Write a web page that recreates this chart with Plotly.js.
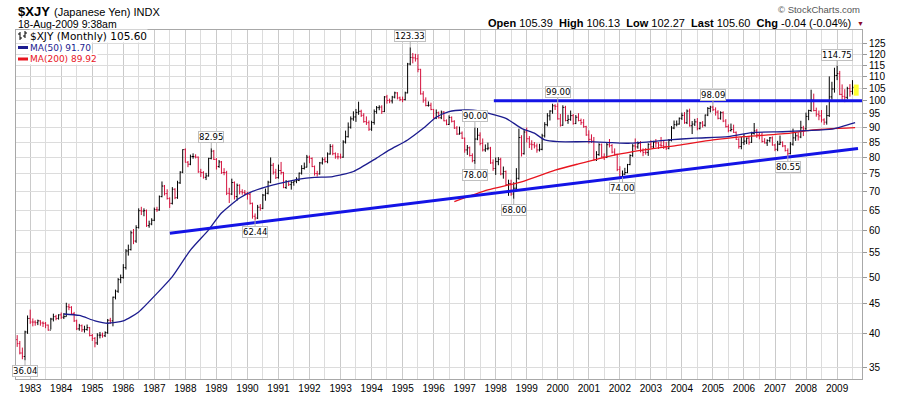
<!DOCTYPE html>
<html><head><meta charset="utf-8">
<script src="https://cdn.plot.ly/plotly-3.0.1.min.js"></script>
<style>html,body{margin:0;padding:0;background:#fff;} #chart{width:900px;height:396px;}</style>
</head><body><div id="chart"></div>
<script>
// ---------------- DATA (monthly $XJY bars, Aug 1982 .. Aug 2009) ----------------
const firstYear = 1982, firstMonth = 8;

const open = [
  39.1, 38.5, 37.1, 36.6, 40.3,
  42.5, 41.9, 41.9, 41.8, 42.1, 41.75, 41.7, 41.4, 40.6, 42.4, 42.8, 42.5,
  43.1, 42.7, 42.8, 44.5, 44.4, 43.3, 42.1, 40.8, 41.3, 40.65, 40.7, 41.0,
  39.75, 39.3, 38.6, 39.8, 39.8, 39.7, 40.2, 42.2, 42.1, 46.2, 47.3, 49.5,
  49.9, 51.9, 55.4, 55.7, 59.5, 57.6, 60.75, 64.9, 64.8, 64.9, 61.2, 61.6,
  62.5, 65.2, 65.1, 68.6, 71.5, 69.4, 68.1, 66.8, 70.6, 68.3, 72.4, 75.5,
  82.5, 78.5, 77.9, 80.3, 80.3, 80.1, 75.6, 75.4, 74.0, 74.4, 79.7, 82.0,
  79.4, 77.2, 78.6, 75.4, 75.4, 69.5, 69.3, 72.5, 68.6, 71.7, 69.9, 69.7,
  69.5, 69.2, 66.8, 63.5, 63.05, 65.8, 65.5, 69.0, 69.5, 72.6, 77.6, 75.5,
  73.9, 76.0, 75.4, 71.1, 72.8, 71.9, 72.5, 72.9, 73.1, 75.2, 76.6, 77.0,
  80.1, 79.7, 77.2, 75.1, 75.0, 78.3, 79.3, 78.7, 81.1, 83.5, 81.2, 80.2,
  80.2, 80.1, 85.0, 86.8, 90.1, 93.1, 93.8, 95.5, 95.9, 94.4, 92.1, 91.7,
  89.4, 91.8, 95.8, 97.3, 97.5, 95.8, 101.5, 100.1, 99.9, 101.4, 103.1, 101.1,
  100.4, 100.4, 103.1, 115.5, 118.5, 118.3, 117.9, 113.1, 102.7, 100.2, 98.1, 98.2,
  96.6, 93.4, 95.4, 93.5, 95.6, 92.4, 91.1, 93.6, 92.2, 89.8, 87.7, 88.0,
  86.3, 82.4, 83.1, 80.6, 79.0, 86.0, 87.3, 84.5, 82.4, 82.8, 83.0, 78.3,
  76.6, 78.7, 79.4, 75.0, 75.7, 71.9, 72.2, 69.3, 70.9, 73.7, 86.5, 81.2,
  88.4, 86.1, 84.3, 84.1, 83.7, 82.4, 82.6, 87.1, 91.0, 94.2, 96.0, 98.0,
  97.8, 93.1, 90.8, 97.4, 92.5, 92.9, 94.3, 91.4, 93.7, 92.5, 91.7, 90.3,
  87.4, 85.9, 85.3, 79.3, 80.9, 84.1, 80.2, 80.0, 84.1, 83.8, 81.7, 81.0,
  76.3, 74.2, 74.9, 75.4, 77.8, 80.6, 83.7, 83.4, 84.5, 82.1, 81.6, 81.6,
  84.2, 83.4, 84.9, 84.7, 84.0, 83.8, 83.4, 82.9, 85.5, 89.8, 91.0, 91.2,
  93.3, 94.4, 91.7, 96.0, 90.6, 91.2, 92.0, 89.6, 91.6, 90.8, 94.5, 97.0,
  97.5, 96.5, 95.6, 93.3, 95.4, 92.3, 90.3, 88.9, 89.3, 88.3, 85.9, 83.5,
  84.8, 85.3, 86.3, 84.9, 87.9, 88.8, 87.4, 87.3, 85.2, 84.7, 85.5, 86.4,
  84.0, 82.6, 84.3, 84.9, 83.7, 82.2, 81.2, 84.3, 86.4, 87.1, 86.7, 89.9,
  89.5, 94.0, 96.2, 100.3, 96.2, 94.8, 94.2, 92.7, 91.9, 94.3, 101.5, 104.7,
  110.4, 111.2, 102.5, 101.7, 101.3, 104.9, 103.7, 105.39
];
const high = [
  39.8, 38.9, 37.9, 40.5, 43.0,
  44.0, 42.5, 42.2, 42.3, 42.2, 42.0, 41.9, 41.5, 42.6, 43.3, 43.1, 43.2,
  43.5, 43.4, 45.2, 45.0, 44.6, 43.6, 42.3, 41.6, 41.5, 41.3, 41.5, 41.1,
  40.0, 39.5, 40.1, 40.3, 40.2, 40.4, 42.4, 42.6, 46.3, 47.6, 49.8, 50.5,
  52.6, 55.8, 56.8, 60.0, 60.4, 61.3, 65.5, 65.9, 65.5, 65.2, 62.4, 63.0,
  65.7, 65.9, 68.9, 72.8, 71.8, 70.6, 68.4, 71.2, 70.9, 73.0, 75.8, 82.6,
  82.9, 78.9, 80.9, 81.3, 81.0, 80.3, 76.5, 75.8, 75.3, 79.9, 82.95, 82.4,
  79.8, 79.2, 78.9, 76.7, 75.9, 71.0, 73.6, 72.8, 72.2, 72.0, 70.6, 70.4,
  69.9, 69.6, 67.0, 64.2, 66.4, 66.6, 69.3, 70.8, 73.0, 80.0, 78.3, 76.5,
  77.8, 78.6, 75.6, 73.2, 73.0, 72.9, 73.2, 74.0, 75.4, 77.6, 78.4, 80.8,
  80.6, 80.0, 77.5, 75.9, 78.6, 80.0, 80.1, 81.6, 84.3, 84.2, 81.6, 81.4,
  81.2, 85.6, 88.9, 91.8, 94.0, 95.9, 96.8, 99.6, 96.5, 95.2, 94.0, 92.5,
  92.4, 96.6, 97.9, 98.2, 98.2, 101.8, 102.3, 100.8, 101.9, 103.6, 103.4, 101.6,
  101.6, 103.6, 116.0, 123.33, 120.6, 120.2, 120.0, 113.3, 103.8, 101.3, 99.7, 99.2,
  96.8, 96.6, 95.8, 96.2, 96.0, 92.9, 94.4, 94.0, 92.6, 90.5, 90.3, 88.6,
  86.5, 84.0, 83.5, 81.3, 90.0, 89.8, 88.3, 86.2, 84.2, 84.8, 83.4, 79.4,
  80.0, 80.1, 79.9, 77.2, 76.0, 73.3, 73.3, 72.6, 76.7, 89.6, 87.3, 89.3,
  90.0, 87.0, 85.6, 85.0, 84.5, 84.4, 87.8, 91.9, 95.2, 96.3, 98.8, 98.6,
  99.0, 94.9, 98.2, 98.0, 94.6, 96.2, 94.9, 94.5, 95.2, 93.2, 93.0, 90.6,
  89.0, 87.6, 86.7, 82.0, 84.6, 84.5, 81.3, 84.7, 86.0, 84.3, 82.9, 81.2,
  77.3, 76.0, 76.8, 78.0, 81.0, 84.3, 86.2, 85.2, 85.3, 82.9, 83.0, 84.6,
  85.6, 85.4, 86.0, 85.0, 86.7, 85.4, 85.0, 86.0, 90.5, 92.5, 92.5, 93.6,
  95.4, 95.6, 96.6, 96.9, 92.3, 93.1, 93.4, 92.0, 92.3, 94.7, 97.5, 98.0,
  98.09, 97.4, 96.3, 95.9, 95.9, 93.0, 91.1, 91.4, 91.0, 88.6, 86.3, 86.7,
  87.7, 86.5, 87.0, 88.5, 91.6, 89.5, 88.3, 88.2, 86.3, 85.9, 86.7, 86.9,
  84.4, 85.4, 87.2, 85.2, 84.0, 82.9, 85.0, 89.6, 88.3, 88.3, 92.4, 90.6,
  95.4, 96.5, 104.4, 102.8, 97.3, 96.2, 96.4, 93.3, 98.2, 110.0, 107.7, 113.8,
  114.75, 112.4, 106.6, 104.6, 105.6, 106.7, 108.4, 106.13
];
const low = [
  38.0, 36.9, 36.2, 36.04, 40.0,
  41.6, 41.2, 41.3, 41.4, 41.3, 41.1, 40.9, 40.5, 40.7, 42.0, 42.2, 42.3,
  42.4, 42.4, 42.8, 43.9, 43.1, 41.9, 40.6, 40.5, 40.3, 40.2, 40.5, 39.6,
  38.9, 37.94, 38.3, 39.3, 39.4, 39.5, 40.0, 41.6, 41.2, 45.8, 47.0, 48.8,
  49.7, 51.5, 54.4, 55.5, 56.9, 57.2, 60.5, 63.8, 63.5, 60.9, 60.7, 61.3,
  62.3, 64.6, 64.9, 68.4, 68.9, 67.8, 65.6, 66.5, 67.9, 68.0, 72.1, 75.2,
  78.4, 77.0, 77.6, 79.6, 79.7, 75.3, 74.1, 73.6, 73.2, 74.2, 79.4, 79.2,
  76.3, 76.8, 75.0, 74.6, 69.0, 66.9, 69.0, 67.8, 67.5, 69.2, 69.1, 69.0,
  67.8, 66.5, 62.9, 62.44, 62.8, 64.9, 65.3, 67.5, 69.2, 72.3, 74.8, 73.5,
  73.6, 74.8, 70.9, 70.7, 71.5, 70.5, 71.6, 72.3, 72.9, 74.8, 76.3, 76.9,
  78.2, 77.0, 74.5, 74.2, 74.8, 77.8, 78.4, 78.2, 80.9, 80.7, 79.6, 79.4,
  79.6, 79.9, 84.5, 86.5, 89.6, 92.4, 92.0, 94.6, 93.8, 91.7, 90.9, 88.8,
  88.8, 91.0, 95.0, 96.3, 94.9, 95.6, 98.8, 99.0, 98.9, 100.9, 100.5, 99.8,
  99.4, 100.1, 102.9, 114.9, 115.8, 116.6, 111.8, 102.4, 99.2, 97.8, 97.7, 96.3,
  93.2, 93.0, 93.2, 93.0, 92.2, 90.8, 90.9, 91.8, 89.5, 87.4, 87.5, 86.0,
  81.5, 80.8, 80.3, 78.5, 78.0, 85.6, 83.9, 81.9, 81.8, 82.3, 78.0, 75.9,
  74.7, 77.6, 74.6, 73.6, 71.6, 68.8, 68.8, 68.0, 70.0, 73.3, 80.3, 80.9,
  84.8, 83.0, 82.4, 82.9, 81.5, 81.9, 82.3, 86.5, 90.4, 92.5, 95.0, 96.4,
  92.8, 90.3, 90.6, 92.2, 91.3, 92.4, 91.0, 91.2, 92.2, 90.9, 89.9, 87.1,
  84.5, 84.7, 79.0, 78.9, 80.5, 79.9, 79.2, 79.8, 83.2, 81.3, 80.6, 75.8,
  74.1, 74.0, 74.7, 75.2, 77.6, 80.2, 82.4, 82.8, 81.6, 80.4, 80.9, 80.5,
  83.0, 82.9, 83.3, 82.7, 83.4, 82.7, 82.4, 82.6, 85.2, 89.4, 90.4, 91.0,
  92.7, 91.3, 91.2, 90.3, 87.7, 90.5, 89.0, 89.3, 90.0, 90.3, 94.1, 95.5,
  96.0, 94.3, 92.9, 92.8, 91.9, 90.0, 88.3, 88.6, 88.1, 85.7, 82.8, 82.6,
  84.0, 84.3, 84.1, 84.7, 87.5, 86.4, 85.9, 84.8, 84.5, 83.7, 84.9, 83.8,
  82.0, 82.0, 84.0, 83.3, 81.9, 80.55, 81.0, 83.8, 85.4, 85.5, 86.3, 87.0,
  89.2, 92.6, 95.7, 95.9, 93.9, 92.6, 91.8, 90.9, 91.0, 93.8, 100.4, 103.2,
  108.4, 102.2, 100.3, 99.4, 100.5, 101.6, 102.4, 102.27
];
const close = [
  38.5, 37.1, 36.6, 40.3, 42.5,
  41.9, 41.9, 41.8, 42.1, 41.75, 41.7, 41.4, 40.6, 42.4, 42.8, 42.5, 43.1,
  42.7, 42.8, 44.5, 44.4, 43.3, 42.1, 40.8, 41.3, 40.65, 40.7, 41.0, 39.75,
  39.3, 38.6, 39.8, 39.8, 39.7, 40.2, 42.2, 42.1, 46.2, 47.3, 49.5, 49.9,
  51.9, 55.4, 55.7, 59.5, 57.6, 60.75, 64.9, 64.8, 64.9, 61.2, 61.6, 62.5,
  65.2, 65.1, 68.6, 71.5, 69.4, 68.1, 66.8, 70.6, 68.3, 72.4, 75.5, 82.5,
  78.5, 77.9, 80.3, 80.3, 80.1, 75.6, 75.4, 74.0, 74.4, 79.7, 82.0, 79.4,
  77.2, 78.6, 75.4, 75.4, 69.5, 69.3, 72.5, 68.6, 71.7, 69.9, 69.7, 69.5,
  69.2, 66.8, 63.5, 63.05, 65.8, 65.5, 69.0, 69.5, 72.6, 77.6, 75.5, 73.9,
  76.0, 75.4, 71.1, 72.8, 71.9, 72.5, 72.9, 73.1, 75.2, 76.6, 77.0, 80.1,
  79.7, 77.2, 75.1, 75.0, 78.3, 79.3, 78.7, 81.1, 83.5, 81.2, 80.2, 80.2,
  80.1, 85.0, 86.8, 90.1, 93.1, 93.8, 95.5, 95.9, 94.4, 92.1, 91.7, 89.4,
  91.8, 95.8, 97.3, 97.5, 95.8, 101.5, 100.1, 99.9, 101.4, 103.1, 101.1, 100.4,
  100.4, 103.1, 115.5, 118.5, 118.3, 117.9, 113.1, 102.7, 100.2, 98.1, 98.2, 96.6,
  93.4, 95.4, 93.5, 95.6, 92.4, 91.1, 93.6, 92.2, 89.8, 87.7, 88.0, 86.3,
  82.4, 83.1, 80.6, 79.0, 86.0, 87.3, 84.5, 82.4, 82.8, 83.0, 78.3, 76.6,
  78.7, 79.4, 75.0, 75.7, 71.9, 72.2, 69.3, 70.9, 73.7, 86.5, 81.2, 88.4,
  86.1, 84.3, 84.1, 83.7, 82.4, 82.6, 87.1, 91.0, 94.2, 96.0, 98.0, 97.8,
  93.1, 90.8, 97.4, 92.5, 92.9, 94.3, 91.4, 93.7, 92.5, 91.7, 90.3, 87.4,
  85.9, 85.3, 79.3, 80.9, 84.1, 80.2, 80.0, 84.1, 83.8, 81.7, 81.0, 76.3,
  74.2, 74.9, 75.4, 77.8, 80.6, 83.7, 83.4, 84.5, 82.1, 81.6, 81.6, 84.2,
  83.4, 84.9, 84.7, 84.0, 83.8, 83.4, 82.9, 85.5, 89.8, 91.0, 91.2, 93.3,
  94.4, 91.7, 96.0, 90.6, 91.2, 92.0, 89.6, 91.6, 90.8, 94.5, 97.0, 97.5,
  96.5, 95.6, 93.3, 95.4, 92.3, 90.3, 88.9, 89.3, 88.3, 85.9, 83.5, 84.8,
  85.3, 86.3, 84.9, 87.9, 88.8, 87.4, 87.3, 85.2, 84.7, 85.5, 86.4, 84.0,
  82.6, 84.3, 84.9, 83.7, 82.2, 81.2, 84.3, 86.4, 87.1, 86.7, 89.9, 89.5,
  94.0, 96.2, 100.3, 96.2, 94.8, 94.2, 92.7, 91.9, 94.3, 101.5, 104.7, 110.4,
  111.2, 102.5, 101.7, 101.3, 104.9, 103.7, 105.39, 105.60
];

// Moving averages
const ma50Dates = ['1984-02-01','1984-08-01','1985-02-01','1985-07-01','1986-01-01','1986-07-01','1987-02-01','1987-08-01','1988-03-01','1988-10-01','1989-03-01','1989-10-01','1990-03-01','1990-11-01','1991-04-01','1991-09-01','1992-03-01','1992-10-01','1993-06-01','1994-03-01','1994-08-01','1995-03-01','1995-09-01','1996-02-01','1996-07-01','1997-01-01','1997-06-01','1997-10-01','1998-05-01','1998-11-01','1999-04-01','1999-08-01','2000-01-01','2001-01-01','2001-10-01','2002-05-01','2003-08-01','2004-06-01','2005-07-01','2006-04-01','2007-04-01','2008-01-01','2008-11-01','2009-08-01'];
const ma50Vals  = [43.25, 43.0, 42.1, 41.7, 42.1, 43.6, 46.9, 50.1, 55.6, 60.2, 64.3, 68.2, 70.0, 71.8, 72.7, 73.5, 74.0, 74.2, 75.7, 79.8, 82.4, 85.7, 89.7, 93.7, 95.8, 96.4, 96.2, 95.2, 93.3, 89.7, 88.0, 85.7, 85.1, 85.1, 84.8, 84.6, 85.7, 86.3, 86.8, 88.2, 88.5, 88.9, 89.4, 91.7];
const ma200Dates = ['1996-09-01','1997-10-01','1998-11-01','1999-12-01','2000-09-01','2001-10-01','2002-11-01','2003-12-01','2005-01-01','2006-01-01','2007-07-01','2008-03-01','2009-08-01'];
const ma200Vals  = [67.25, 70.4, 72.7, 76.1, 78.0, 80.6, 82.5, 84.0, 85.7, 86.8, 88.0, 89.1, 89.92];

// Hand-drawn trend lines
const supportDates = ['1987-07-03','2009-09-04'];
const supportVals  = [59.4, 82.9];
const resistDates  = ['1997-12-10','2009-10-21'];
const resistVals   = [100.0, 100.0];

// Price labels
const peakText  = ['36.04','82.95','62.44','123.33','90.00','78.00','68.00','99.00','74.00','98.09','80.55','114.75'];
const peakDates = ['1982-11-01','1988-11-01','1990-04-01','1995-04-01','1997-05-01','1997-05-01','1998-08-01','2000-01-01','2002-02-01','2005-01-01','2007-06-01','2009-01-01'];
const peakVals  = [36.04, 82.95, 62.44, 123.33, 90.00, 78.00, 68.00, 99.00, 74.00, 98.09, 80.55, 114.75];
const peakSide  = ['below','above','below','above','above','below','below','above','below','above','below','above'];

const yTicks = [35,40,45,50,55,60,65,70,75,80,85,90,95,100,105,110,115,120,125];

// ---------------- BUILD ----------------
const months = open.map((_, i) => {
  const m = firstMonth - 1 + i;
  const y = firstYear + Math.floor(m / 12);
  return y + '-' + String(m % 12 + 1).padStart(2, '0') + '-01';
});

const L = 16, R = 862, T = 30, B = 379;
const px = x => (x - L) / (R - L);
const py = y => (B - y) / (B - T);

const UP = '#000000', DOWN = '#d4103c';
const NAVY = '#1c1c8f', RED = '#e8141e', BLUE = '#1414e6';

const lastIdx = months.length - 1;
const traces = [
  { type: 'scatter', mode: 'lines', x: ['2009-07-16','2009-09-12','2009-09-12','2009-07-16','2009-07-16'],
    y: [low[lastIdx] - 0.3, low[lastIdx] - 0.3, high[lastIdx] + 0.4, high[lastIdx] + 0.4, low[lastIdx] - 0.3],
    fill: 'toself', fillcolor: '#ffff33', line: { width: 0 }, hoverinfo: 'skip' },
  { type: 'ohlc', x: months, open: open, high: high, low: low, close: close,
    increasing: { line: { color: UP, width: 1 } }, decreasing: { line: { color: DOWN, width: 1 } },
    tickwidth: 0.45, hoverinfo: 'skip' },
  { type: 'scatter', mode: 'lines', x: ma200Dates, y: ma200Vals,
    line: { color: RED, width: 1.3, shape: 'spline', smoothing: 0.6 }, hoverinfo: 'skip' },
  { type: 'scatter', mode: 'lines', x: ma50Dates, y: ma50Vals,
    line: { color: NAVY, width: 1.3, shape: 'spline', smoothing: 0.6 }, hoverinfo: 'skip' },
  { type: 'scatter', mode: 'lines', x: supportDates, y: supportVals,
    line: { color: BLUE, width: 3 }, hoverinfo: 'skip' },
  { type: 'scatter', mode: 'lines', x: resistDates, y: resistVals,
    line: { color: BLUE, width: 3 }, hoverinfo: 'skip' }
];

const AX_FONT = { family: 'Liberation Sans, Arial, sans-serif', size: 10, color: '#000' };
const annotations = [];

peakText.forEach((t, i) => {
  annotations.push({
    x: peakDates[i], y: Math.log10(peakVals[i]), xref: 'x', yref: 'y',
    text: t, showarrow: true, arrowhead: 0, arrowwidth: 1, arrowcolor: '#b0b0b0',
    ax: 0, ay: peakSide[i] === 'above' ? -11 : 11, standoff: 0,
    font: { family: 'DejaVu Sans, Verdana, sans-serif', size: 8.5, color: '#000' },
    bgcolor: '#ffffff', bordercolor: '#c0c0c0', borderwidth: 1, borderpad: 0
  });
});

const hdr = (x, y, text, size, color, anchor, extra) => Object.assign({
  xref: 'paper', yref: 'paper', x: px(x), y: py(y), text: text, showarrow: false,
  xanchor: anchor || 'left', yanchor: 'middle',
  font: { family: 'Liberation Sans, Arial, sans-serif', size: size, color: color || '#000' }
}, extra || {});

annotations.push(hdr(16, 11, '<b>$XJY</b>', 13));
annotations.push(hdr(52, 11.5, '(Japanese Yen) INDX', 11));
annotations.push(hdr(16, 24, '18-Aug-2009 9:38am', 10.5));
annotations.push(hdr(862, 10, '\u00a9 StockCharts.com', 9.5, '#555', 'right'));
annotations.push(hdr(853, 23,
  '<b>Open</b> 105.39\u00a0 <b>High</b> 106.13\u00a0 <b>Low</b> 102.27\u00a0 <b>Last</b> 105.60\u00a0 <b>Chg</b> -0.04 (-0.04%)',
  11, '#000', 'right'));
annotations.push(hdr(855, 23.5, '\u25BC', 7, '#8b0a2a', 'left'));

const LEG_FONT = 'DejaVu Sans, Verdana, sans-serif';
annotations.push(hdr(29, 36, '$XJY (Monthly) 105.60', 10.5, '#000', 'left',
  { bgcolor: '#fff', borderpad: 0, font: { family: LEG_FONT, size: 10.5, color: '#000' } }));
annotations.push(hdr(29, 47.5, 'MA(50) 91.70', 9, NAVY, 'left',
  { bgcolor: '#fff', borderpad: 0, font: { family: LEG_FONT, size: 9, color: NAVY } }));
annotations.push(hdr(29, 59, 'MA(200) 89.92', 9, RED, 'left',
  { bgcolor: '#fff', borderpad: 0, font: { family: LEG_FONT, size: 9, color: RED } }));

const seg = (x0, y0, x1, y1, color, w) => ({
  type: 'line', xref: 'paper', yref: 'paper', x0: px(x0), y0: py(y0), x1: px(x1), y1: py(y1),
  line: { color: color, width: w }
});
const shapes = [
  // legend glyph for price bars
  { type: 'rect', xref: 'paper', yref: 'paper', x0: px(17), x1: px(28), y0: py(42), y1: py(31), fillcolor: '#fff', line: { width: 0 } },
  seg(20, 32, 20, 40, '#000', 1), seg(18, 34, 20, 34, '#000', 1), seg(20, 38, 22, 38, '#000', 1),
  seg(25, 31, 25, 38, '#000', 1), seg(23, 36, 25, 36, '#000', 1), seg(25, 33, 27, 33, '#000', 1),
  // legend line glyphs
  seg(18, 47.5, 28, 47.5, NAVY, 3),
  seg(18, 59, 28, 59, RED, 3)
];

const layout = {
  width: 900, height: 396,
  margin: { l: L, r: 900 - R, t: T, b: 396 - B, pad: 0 },
  paper_bgcolor: '#fff', plot_bgcolor: '#fff',
  showlegend: false,
  xaxis: {
    type: 'date', range: ['1982-07-18', '2009-10-21'],
    tick0: '1983-01-01', dtick: 'M12', tickformat: '%Y',
    showgrid: true, gridcolor: '#cacaca', gridwidth: 1,
    minor: { dtick: 'M6', tick0: '1983-01-01', showgrid: true, gridcolor: '#dcdcdc', gridwidth: 1 },
    showline: true, linecolor: '#a8a8a8', linewidth: 1, mirror: true,
    ticks: '', tickfont: AX_FONT, zeroline: false,
    rangeslider: { visible: false }, fixedrange: true
  },
  yaxis: {
    type: 'log', side: 'right',
    range: [Math.log10(33.5), Math.log10(132)],
    tickmode: 'array', tickvals: yTicks, ticktext: yTicks.map(String),
    ticks: 'outside', ticklen: 4, tickcolor: '#999',
    showgrid: true, gridcolor: '#dcdcdc', gridwidth: 1,
    showline: true, linecolor: '#a8a8a8', linewidth: 1, mirror: true,
    tickfont: AX_FONT, zeroline: false, fixedrange: true
  },
  annotations: annotations,
  shapes: shapes
};

Plotly.newPlot('chart', traces, layout, { staticPlot: true, displayModeBar: false });
</script></body></html>
